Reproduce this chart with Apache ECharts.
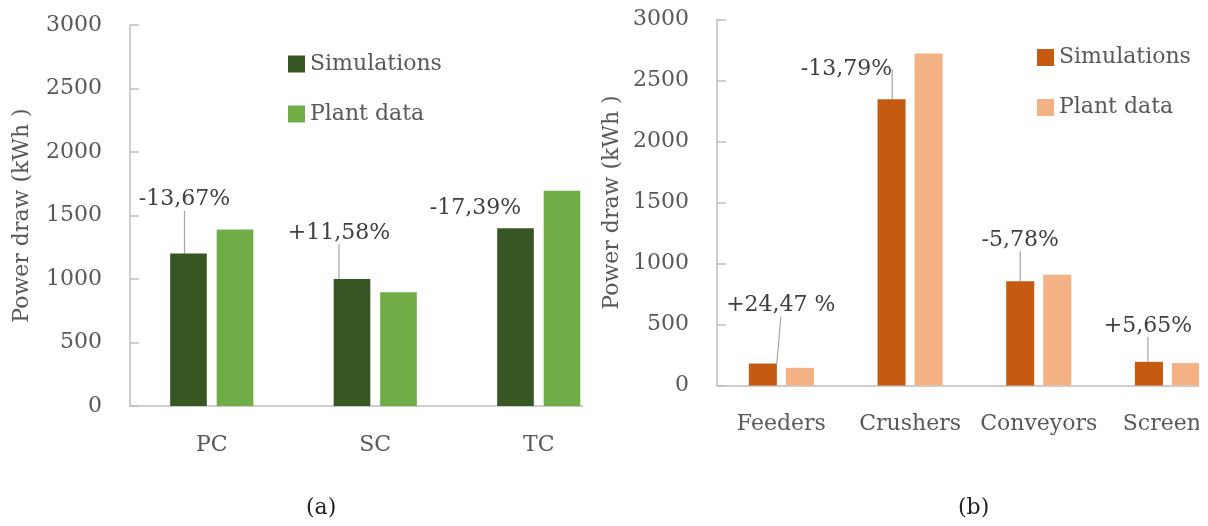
<!DOCTYPE html>
<html>
<head>
<meta charset="utf-8">
<script src="https://cdn.jsdelivr.net/npm/echarts@6/dist/echarts.min.js"></script>
<style>
  * { margin: 0; padding: 0; }
  html, body { width: 1208px; height: 526px; background: #fff; overflow: hidden; }
</style>
</head>
<body>
<div id="chart" style="width: 1208px; height: 526px;"></div>
<script>
// (a) crusher stages
var stageCats = ['PC', 'SC', 'TC'];
var stageSim = [1200, 1000, 1400];
var stagePlant = [1390, 896, 1695];
var stageDiff = ['-13,67%', '+11,58%', '-17,39%'];

// (b) equipment groups
var equipCats = ['Feeders', 'Crushers', 'Conveyors', 'Screens'];
var equipSim = [180, 2346, 855, 194];
var equipPlant = [145, 2721, 907, 184];
var equipDiff = ['+24,47 %', '-13,79%', '-5,78%', '+5,65%'];

var yTicks = [0, 500, 1000, 1500, 2000, 2500, 3000];

// label offsets from the top centre of each simulation bar, and whether a leader is drawn
var stageLabelOff = [[-4, -54], [-13, -46], [-40, -20]];
var stageLeader = [true, true, false];
var equipLabelOff = [[18, -58], [-45, -30], [0, -41], [-1, -36]];
var equipLeader = [true, true, true, true];

var font = 'DejaVu Serif';
var txt = '#595959';
var axisCol = '#BFBFBF';

function simData(vals, lead) {
  return vals.map(function (v, i) {
    return { value: v, labelLine: { show: lead[i] } };
  });
}

function layoutFn(offs) {
  return function (p) {
    var o = offs[p.dataIndex];
    return {
      x: p.rect.x + p.rect.width / 2 + o[0],
      y: p.rect.y + o[1],
      align: 'center',
      verticalAlign: 'middle'
    };
  };
}

function yAx(idx, gap) {
  return {
    type: 'value', gridIndex: idx, min: yTicks[0], max: yTicks[yTicks.length - 1], interval: 500,
    name: 'Power draw (kWh )', nameLocation: 'middle', nameGap: gap, nameRotate: 90,
    nameTextStyle: { color: txt, fontFamily: font, fontSize: 22 },
    axisLine: { show: true, lineStyle: { color: axisCol, width: 1.5 } },
    axisTick: { show: true, inside: true, length: 9, lineStyle: { color: axisCol, width: 1.5 } },
    axisLabel: {
      color: txt, fontFamily: font, fontSize: 22, margin: 28,
      formatter: function (v) { return String(v); }
    },
    splitLine: { show: false }
  };
}

function xAx(idx, cats, margin) {
  return {
    type: 'category', gridIndex: idx, data: cats,
    axisLine: { show: true, lineStyle: { color: axisCol, width: 1.5 } },
    axisTick: { show: false },
    axisLabel: { color: txt, fontFamily: font, fontSize: 22, margin: margin, interval: 0 },
    splitLine: { show: false }
  };
}

var labelBase = {
  show: true, position: 'top', color: '#404040', fontFamily: font, fontSize: 22
};

var chart = echarts.init(document.getElementById('chart'));
chart.setOption({
  animation: false,
  backgroundColor: '#fff',
  grid: [
    { left: 130, top: 25, width: 490.5, height: 381, outerBoundsMode: 'none', containLabel: false },
    { left: 717, top: 19.5, width: 514.8, height: 366, outerBoundsMode: 'none', containLabel: false }
  ],
  xAxis: [xAx(0, stageCats, 28), xAx(1, equipCats, 28)],
  yAxis: [yAx(0, 97), yAx(1, 94)],
  legend: [
    {
      left: 283, top: 48, orient: 'vertical', itemWidth: 17, itemHeight: 17, itemGap: 28,
      icon: 'rect', textStyle: { color: txt, fontFamily: font, fontSize: 22 },
      data: [
        { name: 'Simulations', itemStyle: { color: '#375623' } },
        { name: 'Plant data', itemStyle: { color: '#70AD47' } }
      ]
    },
    {
      left: 1032, top: 41.5, orient: 'vertical', itemWidth: 17, itemHeight: 17, itemGap: 28,
      icon: 'rect', textStyle: { color: txt, fontFamily: font, fontSize: 22 },
      data: [
        { name: 'Simulations', itemStyle: { color: '#C55A11' } },
        { name: 'Plant data', itemStyle: { color: '#F4B183' } }
      ]
    }
  ],
  series: [
    {
      name: 'Simulations', type: 'bar', xAxisIndex: 0, yAxisIndex: 0,
      barWidth: '22.4%', barGap: '27%',
      itemStyle: { color: '#375623' },
      data: simData(stageSim, stageLeader),
      label: Object.assign({}, labelBase, { formatter: function (p) { return stageDiff[p.dataIndex]; } }),
      labelLine: { show: true, lineStyle: { color: '#A6A6A6', width: 1.2 } },
      labelLayout: layoutFn(stageLabelOff)
    },
    {
      name: 'Plant data', type: 'bar', xAxisIndex: 0, yAxisIndex: 0,
      barWidth: '22.4%', barGap: '27%',
      itemStyle: { color: '#70AD47' },
      data: stagePlant
    },
    {
      name: 'Simulations', type: 'bar', xAxisIndex: 1, yAxisIndex: 1,
      barWidth: '21.8%', barGap: '32%',
      itemStyle: { color: '#C55A11' },
      data: simData(equipSim, equipLeader),
      label: Object.assign({}, labelBase, { formatter: function (p) { return equipDiff[p.dataIndex]; } }),
      labelLine: { show: true, lineStyle: { color: '#A6A6A6', width: 1.2 } },
      labelLayout: layoutFn(equipLabelOff)
    },
    {
      name: 'Plant data', type: 'bar', xAxisIndex: 1, yAxisIndex: 1,
      barWidth: '21.8%', barGap: '32%',
      itemStyle: { color: '#F4B183' },
      data: equipPlant
    }
  ],
  graphic: [
    // the source figure is cropped at the right of each panel
    { type: 'rect', left: 583, top: 399, z: 100, shape: { width: 45, height: 14 }, style: { fill: '#fff' } },
    { type: 'rect', left: 1199, top: 0, z: 100, shape: { width: 9, height: 526 }, style: { fill: '#fff' } },
    { type: 'text', left: 306, top: 497, z: 100, style: { text: '(a)', fill: '#222', font: '22px "DejaVu Serif"' } },
    { type: 'text', left: 958, top: 497, z: 100, style: { text: '(b)', fill: '#222', font: '22px "DejaVu Serif"' } }
  ]
});
</script>
</body>
</html>
